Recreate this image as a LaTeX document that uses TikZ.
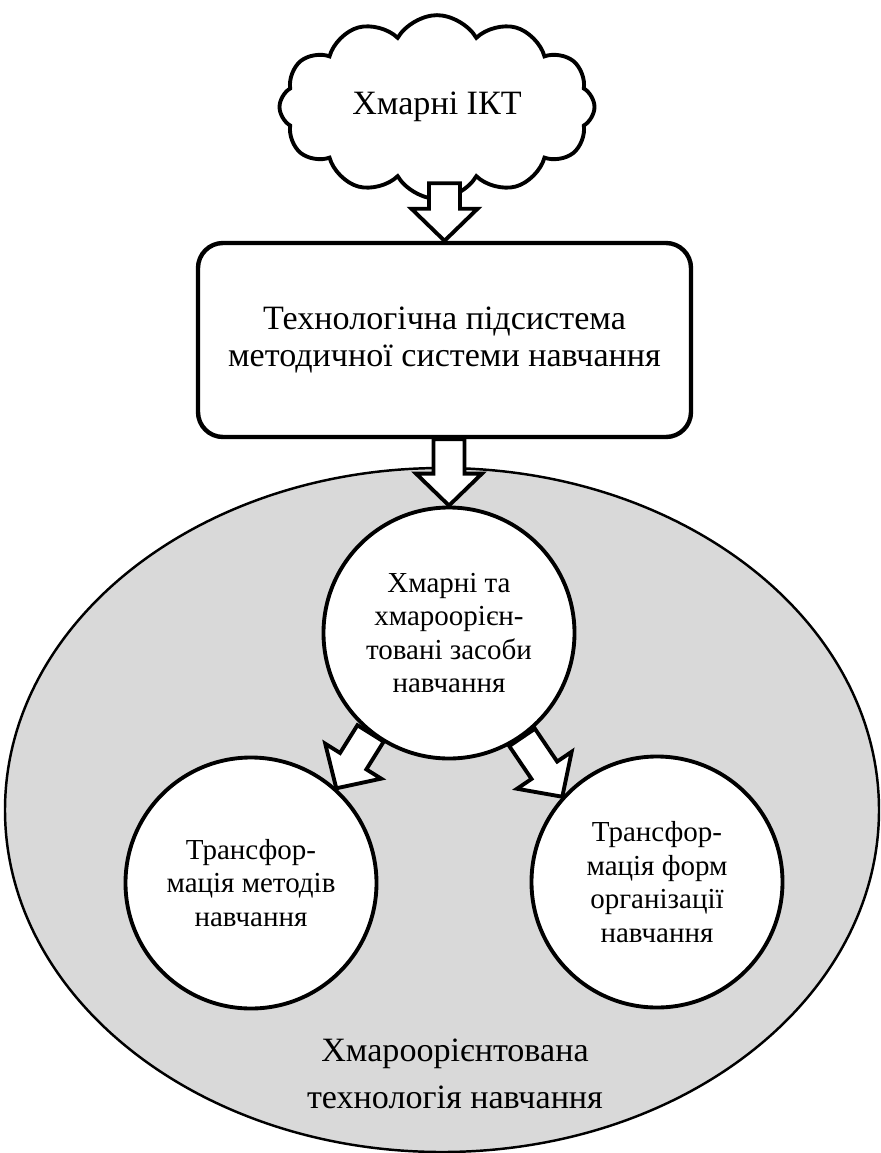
\documentclass[tikz,border=0pt]{standalone}
\usepackage{fontspec}
\setmainfont{Liberation Serif}
\usetikzlibrary{shapes.symbols,calc}
\definecolor{areagray}{HTML}{D9D9D9}

\newcommand{\fatarrow}[2]{%
  \coordinate (fa-s) at #1;
  \coordinate (fa-e) at #2;
  \coordinate (fa-h) at ($(fa-e)!0.64cm!(fa-s)$);
  \draw[fatarrow] ($(fa-s)!0.31cm!90:(fa-e)$) -- ($(fa-h)!0.31cm!90:(fa-e)$)
    -- ($(fa-h)!0.66cm!90:(fa-e)$) -- (fa-e) -- ($(fa-h)!0.66cm!-90:(fa-e)$)
    -- ($(fa-h)!0.31cm!-90:(fa-e)$) -- ($(fa-s)!0.31cm!-90:(fa-e)$) -- cycle;}

\begin{document}
\begin{tikzpicture}[
  bubble/.style={circle,draw,line width=2.2pt,fill=white,minimum size=5.02cm,
    align=center,font=\fontsize{16.5}{19}\selectfont},
  fatarrow/.style={draw,line width=2.2pt,fill=white,line join=miter}]
  \useasboundingbox (0,0) rectangle (17.6,-23.06);

  \draw[line width=1.4pt,fill=areagray] (8.84,-16.2) ellipse (8.74 and 6.84);

  \node[cloud,draw,line width=2.2pt,cloud puffs=12,cloud puff arc=120,aspect=1.7,
    minimum width=6.3cm,minimum height=3.5cm,font=\fontsize{19.4}{22}\selectfont]
    (ict) at (8.74,-2.14) {Хмарні ІКТ};
  \node[draw,line width=2.5pt,rounded corners=0.5cm,minimum width=9.86cm,
    minimum height=3.88cm,align=center,font=\fontsize{19.4}{21}\selectfont]
    (subsys) at (8.89,-6.8) {Технологічна підсистема\\методичної системи навчання};

  \node[bubble] (tools) at (8.98,-12.66) {Хмарні та\\хмароорієн-\\товані засоби\\навчання};
  \node[bubble] (methods) at (5.02,-17.66) {Трансфор-\\мація методів\\навчання};
  \node[bubble] (forms) at (13.14,-17.64) {Трансфор-\\мація форм\\організації\\навчання};

  \node[align=center,font=\fontsize{19.4}{26.7}\selectfont]
    (tech) at (9.1,-21.47) {Хмароорієнтована\\технологія навчання};

  \fatarrow{($(ict.south -| subsys.north)+(0,0.35)$)}{(subsys.north)}
  \fatarrow{(subsys.south -| tools.north)}{(tools.north)}
  \fatarrow{(tools.232)}{(methods.48)}
  \fatarrow{(tools.305)}{(forms.138)}
\end{tikzpicture}
\end{document}
